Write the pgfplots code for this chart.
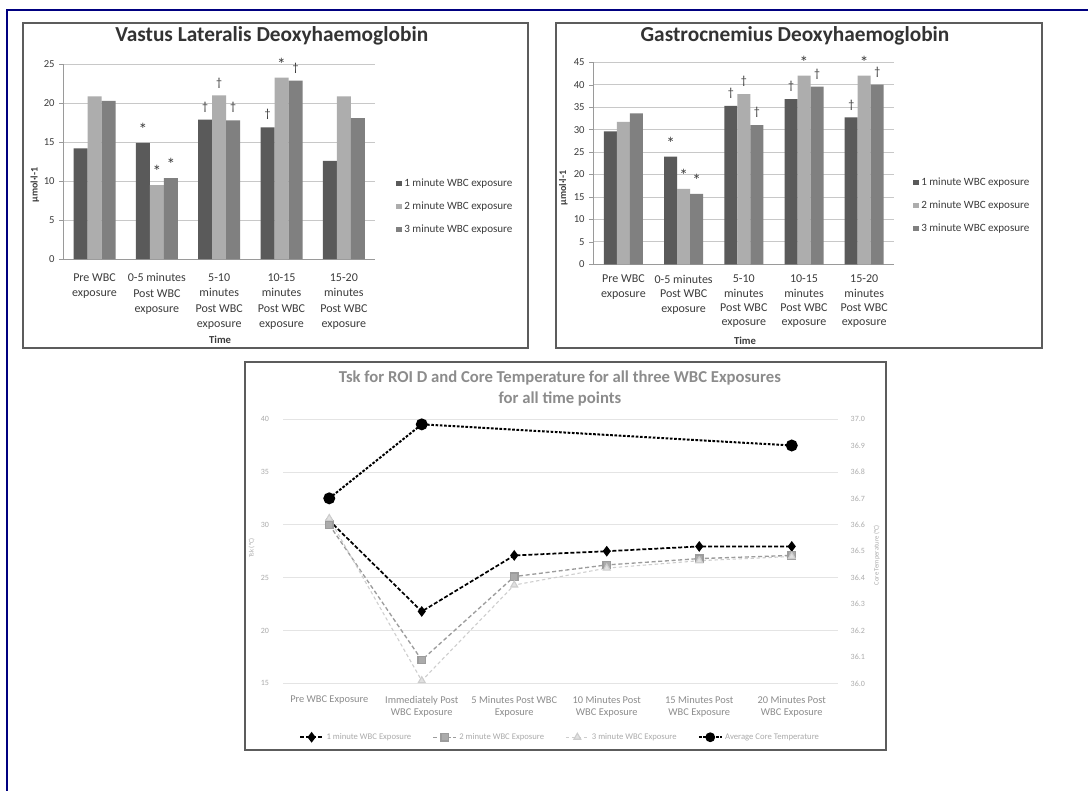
\documentclass[border=0pt]{standalone}
\usepackage{fontspec}
\setmainfont{Carlito}
\usepackage{pgfplots}
\pgfplotsset{compat=1.18}

\definecolor{navyc}{HTML}{000080}
\definecolor{cOne}{HTML}{5A5A5A}
\definecolor{cTwo}{HTML}{ADADAD}
\definecolor{cThree}{HTML}{808080}
\definecolor{boxc}{HTML}{5C5C5C}
\definecolor{gridc}{HTML}{C8C8C8}
\definecolor{gridb}{HTML}{E4E4E4}
\definecolor{axc}{HTML}{9A9A9A}
\definecolor{txtc}{HTML}{3C3C3C}
\definecolor{lgray}{HTML}{ABABAB}
\definecolor{mgray}{HTML}{8C8C8C}
\definecolor{sTwo}{HTML}{9C9C9C}
\definecolor{sThree}{HTML}{CDCDCD}

\protected\def\sigA{\raisebox{-2.5pt}{\fontsize{13}{13}\selectfont *}}
\protected\def\sigD{†}

\pgfplotsset{
  every axis title shift=0pt,
  barax/.style={
    scale only axis, anchor=south west, clip=false,
    ybar=0pt,
    xmin=-0.5, xmax=4.5, ymin=0,
    xtick={0,1,2,3,4},
    major x tick style={draw=none},
    extra x ticks={-0.5,0.5,1.5,2.5,3.5,4.5},
    extra x tick labels={},
    extra x tick style={grid=none, major tick length=3pt, tick style={draw=axc}},
    tick align=outside,
    axis x line*=bottom, axis y line*=left,
    axis line style={draw=axc,-},
    ymajorgrids, grid style={draw=gridc, line width=0.6pt},
    major y tick style={draw=axc}, major tick length=3pt,
    yticklabel style={font=\fontsize{8}{9}\selectfont, text=txtc},
    xticklabel style={align=center, text=txtc},
    /pgf/number format/assume math mode=true,
    nodes near coords={\pgfplotspointmeta},
    point meta=explicit symbolic,
    every node near coord/.append style={font=\fontsize{9}{10}\selectfont, text=txtc, yshift=2pt},
    legend image code/.code={\fill[##1] (0pt,-2pt) rectangle (4pt,2pt);},
    legend style={draw=none, fill=none, inner sep=0pt, font=\fontsize{8.3}{9}\selectfont, text=txtc, cells={anchor=west}, anchor=west, row sep=6pt},
    xlabel={\bfseries Time},
    xlabel style={font=\fontsize{8}{9}\selectfont, text=txtc, anchor=center},
    ylabel={\bfseries µmol·l-1},
    ylabel style={font=\fontsize{7.5}{9}\selectfont, text=txtc, anchor=center},
    title style={font=\bfseries\fontsize{16}{18}\selectfont, text=txtc!85!black, anchor=center},
  }
}

\begin{document}
\begin{tikzpicture}
\useasboundingbox (0pt,0pt) rectangle (816pt,-593.25pt);
\fill[white] (0pt,0pt) rectangle (816pt,-593.25pt);
\draw[navyc, line width=1.6pt] (5.25pt,-600pt) -- (5.25pt,-7.5pt) -- (820pt,-7.5pt);

% chart frames
\draw[boxc, line width=1.6pt] (17.25pt,-17.5pt) rectangle (396pt,-261pt);
\draw[boxc, line width=1.6pt] (417pt,-17.5pt) rectangle (781.5pt,-261.2pt);
\draw[boxc, line width=1.6pt] (183.75pt,-271.7pt) rectangle (664.5pt,-562.5pt);

% ---------------- Vastus Lateralis ----------------
\begin{axis}[barax,
  at={(47.5pt,-194.25pt)}, width=233.8pt, height=146pt,
  ymax=25, ytick={0,5,...,25}, bar width=10.5pt,
  xticklabels={{Pre WBC\\exposure},{0-5 minutes\\Post WBC\\exposure},{5-10\\minutes\\Post WBC\\exposure},{10-15\\minutes\\Post WBC\\exposure},{15-20\\minutes\\Post WBC\\exposure}},
  xticklabel style={font=\fontsize{9}{11.5}\selectfont, yshift=-4.5pt},
  xlabel style={at={(axis description cs:0.503,-0.416)}},
  ylabel style={at={(axis description cs:-0.0908,0.38)}},
  title={Vastus Lateralis Deoxyhaemoglobin},
  title style={at={(axis description cs:0.6686,1.1454)}},
  legend style={at={(axis description cs:1.0674,0.2686)}},
]
\addplot[fill=cOne, draw=none] coordinates {(0,14.2) [] (1,14.9) [\sigA] (2,17.9) [\sigD] (3,16.9) [\sigD] (4,12.6) []};
\addlegendentry{1 minute WBC exposure}
\addplot[fill=cTwo, draw=none] coordinates {(0,20.9) [] (1,9.5) [\sigA] (2,21.0) [\sigD] (3,23.3) [\sigA] (4,20.9) []};
\addlegendentry{2 minute WBC exposure}
\addplot[fill=cThree, draw=none] coordinates {(0,20.3) [] (1,10.4) [\sigA] (2,17.8) [\sigD] (3,22.9) [\sigD] (4,18.1) []};
\addlegendentry{3 minute WBC exposure}
\end{axis}

% ---------------- Gastrocnemius ----------------
\begin{axis}[barax,
  at={(445pt,-198.2pt)}, width=225.75pt, height=151.5pt,
  ymax=45, ytick={0,5,...,45}, bar width=9.75pt,
  xticklabels={{Pre WBC\\exposure},{0-5 minutes\\Post WBC\\exposure},{5-10\\minutes\\Post WBC\\exposure},{10-15\\minutes\\Post WBC\\exposure},{15-20\\minutes\\Post WBC\\exposure}},
  xticklabel style={font=\fontsize{9}{10.8}\selectfont, yshift=-1.5pt},
  xlabel style={at={(axis description cs:0.504,-0.378)}},
  ylabel style={at={(axis description cs:-0.0997,0.378)}},
  title={Gastrocnemius Deoxyhaemoglobin},
  title style={at={(axis description cs:0.670,1.130)}},
  legend style={at={(axis description cs:1.062,0.292)}},
]
\addplot[fill=cOne, draw=none] coordinates {(0,29.6) [] (1,24.0) [\sigA] (2,35.3) [\sigD] (3,36.8) [\sigD] (4,32.7) [\sigD]};
\addlegendentry{1 minute WBC exposure}
\addplot[fill=cTwo, draw=none] coordinates {(0,31.7) [] (1,16.8) [\sigA] (2,37.9) [\sigD] (3,42.0) [\sigA] (4,42.0) [\sigA]};
\addlegendentry{2 minute WBC exposure}
\addplot[fill=cThree, draw=none] coordinates {(0,33.6) [] (1,15.7) [\sigA] (2,31.0) [\sigD] (3,39.6) [\sigD] (4,40.0) [\sigD]};
\addlegendentry{3 minute WBC exposure}
\end{axis}

% ---------------- Tsk & Core temperature ----------------
\begin{axis}[
  scale only axis, anchor=south west, at={(212.25pt,-512.5pt)},
  width=416.25pt, height=198.2pt, clip=false,
  xmin=-0.5, xmax=5.5, ymin=15, ymax=40,
  xtick={0,1,2,3,4,5},
  xticklabels={{Pre WBC Exposure},{Immediately Post\\WBC Exposure},{5 Minutes Post WBC\\Exposure},{10 Minutes Post\\WBC Exposure},{15 Minutes Post\\WBC Exposure},{20 Minutes Post\\WBC Exposure}},
  ytick={15,20,25,30,35,40},
  ymajorgrids, grid style={draw=gridb, line width=0.6pt},
  axis line style={draw=none}, major tick style={draw=none},
  yticklabel style={font=\fontsize{6}{7}\selectfont, text=lgray, xshift=-7pt},
  xticklabel style={font=\fontsize{7.8}{9.5}\selectfont, align=center, yshift=-6pt, text=mgray},
  /pgf/number format/assume math mode=true,
  ylabel={Tsk (°C)},
  ylabel style={font=\fontsize{5}{6}\selectfont, text=lgray, at={(axis description cs:-0.0564,0.512)}, anchor=center},
  title={Tsk for ROI D and Core Temperature for all three WBC Exposures\\for all time points},
  title style={font=\bfseries\fontsize{12.5}{15.5}\selectfont, text=mgray, align=center, at={(axis description cs:0.499,1.117)}, anchor=center},
  legend columns=4,
  legend style={draw=none, fill=none, at={(axis description cs:0.5,-0.204)}, anchor=center, font=\fontsize{6.5}{7.5}\selectfont, text=lgray, /tikz/every even column/.append style={column sep=14pt}},
]
\addplot[black, line width=1.3pt, dash pattern=on 3pt off 1.5pt, mark=diamond*, mark size=3pt, mark options={solid, fill=black}]
  coordinates {(0,30.4) (1,21.8) (2,27.1) (3,27.5) (4,27.95) (5,27.95)};
\addlegendentry{1 minute WBC Exposure}
\addplot[sTwo, line width=1pt, dash pattern=on 3pt off 2pt, mark=square*, mark size=2.8pt, mark options={solid, fill=sTwo!85!white, draw=sTwo}]
  coordinates {(0,30.0) (1,17.2) (2,25.1) (3,26.2) (4,26.8) (5,27.1)};
\addlegendentry{2 minute WBC Exposure}
\addplot[sThree, line width=0.8pt, dash pattern=on 2.5pt off 2pt, mark=triangle*, mark size=3pt, mark options={solid, fill=sThree!60!white, draw=sThree}]
  coordinates {(0,30.6) (1,15.25) (2,24.3) (3,25.9) (4,26.6) (5,27.0)};
\addlegendentry{3 minute WBC Exposure}
\addlegendimage{black, line width=1.3pt, dash pattern=on 2pt off 1.2pt, mark=*, mark size=3pt, mark options={solid}}
\addlegendentry{Average Core Temperature}
\end{axis}

\begin{axis}[
  scale only axis, anchor=south west, at={(212.25pt,-512.5pt)},
  width=416.25pt, height=198.2pt, clip=false,
  xmin=-0.5, xmax=5.5, ymin=36, ymax=37,
  hide x axis, axis y line*=right,
  axis line style={draw=none}, major tick style={draw=none},
  ytick={36.0,36.1,36.2,36.3,36.4,36.5,36.6,36.7,36.8,36.9,37.0},
  yticklabel style={font=\fontsize{6}{7}\selectfont, text=lgray, xshift=6pt, /pgf/number format/.cd, fixed, fixed zerofill, precision=1},
  /pgf/number format/assume math mode=true,
  ylabel={Core Temperature (°C)},
  ylabel style={font=\fontsize{5}{6}\selectfont, text=lgray, at={(axis description cs:1.0697,0.485)}, anchor=center},
]
\addplot[black, line width=1.5pt, dash pattern=on 2pt off 1.2pt, mark=*, mark size=3.7pt, mark options={solid}]
  coordinates {(0,36.70) (1,36.98) (5,36.90)};
\end{axis}
\end{tikzpicture}
\end{document}
